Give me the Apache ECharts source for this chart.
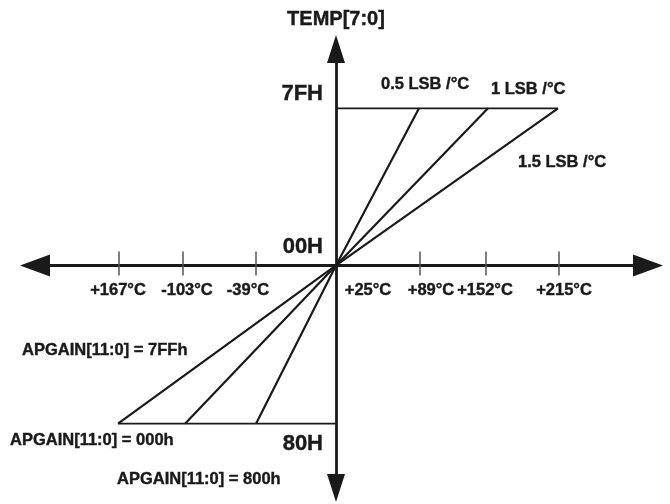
<!DOCTYPE html>
<html>
<head>
<meta charset="utf-8">
<script src="https://cdn.jsdelivr.net/npm/echarts@6/dist/echarts.min.js"></script>
<style>
html,body{margin:0;padding:0;background:#fff;}
#c{width:670px;height:504px;}
</style>
</head>
<body>
<div id="c"></div>
<script>
// Diagram positions (x in relative temperature units, y in TEMP[7:0] codes)
var codeMax = 127;   // 7FH
var codeMin = -128;  // 80H
var tickPositions = [-217, -153, -80, 84, 150, 223];
var labelPositions = [-218, -149, -88, 32, 95, 149, 228];
var tempLabels = ['+167°C', '-103°C', '-39°C', '+25°C', '+89°C', '+152°C', '+215°C'];
var codeLabelPositions = [139, 15, -144];
var codeLabels = ['7FH', '00H', '80H'];
// line ends for the three gains (APGAIN 800h, 000h, 7FFh)
var slopeNames = ['0.5 LSB /°C', '1 LSB /°C', '1.5 LSB /°C'];
var lowEnds = [-80, -151, -218];
var highEnds = [83, 152, 222];

var X_MIN = -301, X_MAX = 312, Y_MIN = -180, Y_MAX = 175;
var G = {left: 35, right: 22, top: 49, bottom: 16};
var W = 670, H = 504;
// offsets that bring the axes onto the zero lines
var plotW = W - G.left - G.right, plotH = H - G.top - G.bottom;
var zeroX = G.left + (0 - X_MIN) / (X_MAX - X_MIN) * plotW;
var zeroY = G.top + (Y_MAX - 0) / (Y_MAX - Y_MIN) * plotH;
var offBottom = -((H - G.bottom) - zeroY);
var offTop = -(zeroY - G.top);
var offLeft = -(zeroX - G.left);

var FONT = '"Liberation Sans", Arial, sans-serif';
var INK = '#1a1a1a';

var series = [];
for (var i = 0; i < slopeNames.length; i++) {
  series.push({
    name: slopeNames[i], type: 'line', xAxisIndex: 0, yAxisIndex: 0,
    symbol: 'none', silent: true,
    lineStyle: {color: INK, width: 2.2},
    data: [[lowEnds[i], codeMin], [0, 0], [highEnds[i], codeMax]]
  });
}
series.push({
  type: 'line', symbol: 'none', silent: true,
  lineStyle: {color: INK, width: 1.8},
  data: [[0, codeMax], [Math.max.apply(null, highEnds), codeMax]]
});
series.push({
  type: 'line', symbol: 'none', silent: true,
  lineStyle: {color: INK, width: 1.8},
  data: [[Math.min.apply(null, lowEnds), codeMin], [0, codeMin]]
});

function txt(s, x, y, size) {
  return {type: 'text', x: x, y: y, silent: true,
    style: {text: s, font: 'bold ' + size + 'px ' + FONT, fill: INK, stroke: INK, lineWidth: 0.4,
      verticalAlign: 'middle', align: 'left'}};
}
var labelBase = {fontFamily: FONT, fontWeight: 'bold', color: INK, textBorderColor: INK, textBorderWidth: 0.4};

var chart = echarts.init(document.getElementById('c'), null, {renderer: 'canvas'});
chart.setOption({
  animation: false,
  backgroundColor: '#fff',
  grid: {left: G.left, right: G.right, top: G.top, bottom: G.bottom, containLabel: false, outerBoundsMode: 'none'},
  xAxis: [{
    type: 'value', min: X_MIN, max: X_MAX, position: 'bottom', offset: offBottom,
    axisLine: {onZero: false, symbol: ['triangle', 'triangle'], symbolSize: [22, 30],
      lineStyle: {color: INK, width: 2.8}},
    axisTick: {show: true, inside: false, length: 10, customValues: tickPositions,
      lineStyle: {color: '#555', width: 1.5}},
    axisLabel: Object.assign({show: true, customValues: labelPositions, margin: 17, fontSize: 16.5,
      formatter: function (v) { var k = labelPositions.indexOf(v); return k >= 0 ? tempLabels[k] : ''; }}, labelBase),
    splitLine: {show: false}
  }, {
    type: 'value', min: X_MIN, max: X_MAX, position: 'top', offset: offTop,
    axisLine: {show: false, onZero: false},
    axisTick: {show: true, inside: false, length: 14, customValues: tickPositions,
      lineStyle: {color: '#555', width: 1.5}},
    axisLabel: {show: false},
    splitLine: {show: false}
  }],
  yAxis: {
    type: 'value', min: Y_MIN, max: Y_MAX, position: 'left', offset: offLeft,
    name: 'TEMP[7:0]', nameLocation: 'end', nameGap: 20,
    nameTextStyle: Object.assign({fontSize: 20}, labelBase),
    axisLine: {onZero: false, symbol: ['triangle', 'triangle'], symbolSize: [18, 28],
      lineStyle: {color: INK, width: 2.8}},
    axisTick: {show: false},
    axisLabel: Object.assign({show: true, customValues: codeLabelPositions, margin: 13, fontSize: 22,
      formatter: function (v) { var k = codeLabelPositions.indexOf(v); return k >= 0 ? codeLabels[k] : ''; }}, labelBase),
    splitLine: {show: false}
  },
  graphic: [
    txt(slopeNames[0], 381, 84, 16.5),
    txt(slopeNames[1], 491, 89, 16.5),
    txt(slopeNames[2], 518, 162, 16.5),
    txt('APGAIN[11:0] = 7FFh', 22, 350, 16.5),
    txt('APGAIN[11:0] = 000h', 10, 440, 16.5),
    txt('APGAIN[11:0] = 800h', 117, 479, 16.5)
  ],
  series: series
});
</script>
</body>
</html>
